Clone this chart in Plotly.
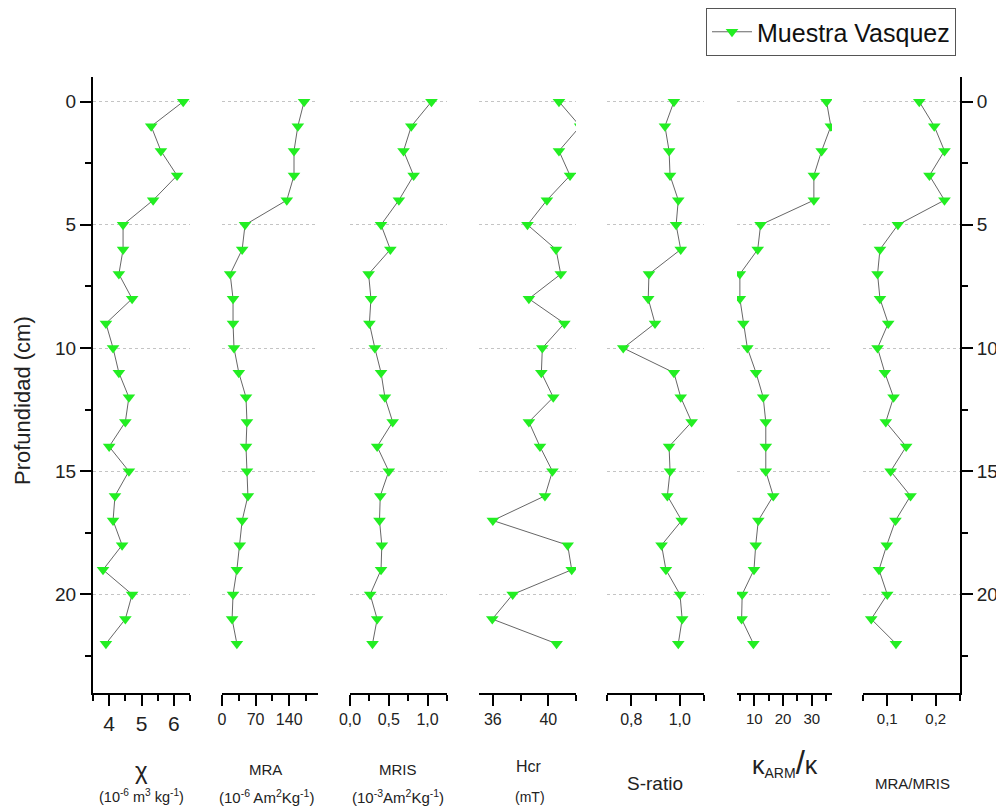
import plotly.graph_objects as go

# ---------------- data ----------------
depth = list(range(23))  # cm

chi = [6.29, 5.30, 5.60, 6.10, 5.36, 4.43, 4.43, 4.30, 4.71, 3.90, 4.12, 4.30,
       4.61, 4.50, 4.00, 4.61, 4.18, 4.12, 4.40, 3.81, 4.71, 4.50, 3.90]
mra = [171, 158, 150, 150, 135, 48, 42, 17, 23, 23, 25, 35,
       50, 52, 50, 52, 54, 42, 37, 31, 23, 21, 31]
mris = [1.05, 0.79, 0.69, 0.82, 0.63, 0.40, 0.52, 0.24, 0.27, 0.25, 0.32, 0.40,
        0.45, 0.55, 0.35, 0.50, 0.39, 0.38, 0.41, 0.40, 0.26, 0.35, 0.29]
hcr = [40.77, 42.3, 40.77, 41.57, 39.9, 38.5, 40.56, 40.9, 38.6, 41.16, 39.57, 39.5,
       40.36, 38.6, 39.4, 40.3, 39.76, 36.0, 41.4, 41.69, 37.43, 35.96, 40.6]
s_ratio = [0.976, 0.939, 0.956, 0.960, 0.994, 0.985, 1.004, 0.873, 0.870, 0.898, 0.767, 0.976,
           1.004, 1.049, 0.956, 0.960, 0.949, 1.008, 0.925, 0.943, 1.001, 1.010, 0.994]
karm_k = [35.1, 36.6, 33.4, 30.7, 30.7, 12.2, 11.2, 5.0, 5.0, 6.2, 7.6, 10.6,
          13.1, 14.0, 14.0, 14.0, 16.6, 11.4, 10.5, 9.9, 5.8, 5.6, 9.7]
mra_mris = [0.166, 0.197, 0.218, 0.187, 0.218, 0.122, 0.085, 0.080, 0.085, 0.102, 0.080, 0.095,
            0.113, 0.097, 0.139, 0.107, 0.148, 0.117, 0.099, 0.083, 0.100, 0.067, 0.118]

series = [chi, mra, mris, hcr, s_ratio, karm_k, mra_mris]
legend_name = "Muestra Vasquez"

# axis settings per panel
x_ranges = [[3.5, 6.5], [0, 200], [0, 1.25], [35, 42], [0.7, 1.1], [4, 37], [0.05, 0.25]]
x_dticks = [1, 70, 0.5, 4, 0.2, 10, 0.1]
x_tick0 = [0, 0, 0, 36, 0, 0, 0]
x_minor = [0.5, 35, 0.25, 2, 0.1, 5, 0.05]
x_formats = ["d", "d", ".1f", "d", ".1f", "d", ".1f"]
x_tickfont = [21, 16, 16, 16, 16, 15, 15]

y_range = [24, -1]

# ---------------- layout geometry (screen pixels, page has 8px body margin) ----------------
OFF = 8
W, H = 1004 - OFF, 809 - OFF
L, R, T, B = 93, 960, 77, 693          # plot area in screen pixels
pw, ph = R - L, B - T
panels_px = [(93, 190), (222, 318), (350, 447), (479, 576), (607, 704), (737, 832), (863, 960)]


def fx(px):
    return (px - L) / pw


def fy(py):
    return (B - py) / ph


font_family = "Liberation Sans, Arial, sans-serif"
marker_color = "#22EE22"

fig = go.Figure()
layout = dict(
    width=W, height=H,
    margin=dict(l=L - OFF, r=W - (R - OFF), t=T - OFF, b=H - (B - OFF), pad=0, autoexpand=False),
    plot_bgcolor="white", paper_bgcolor="white",
    separators=",.",
    font=dict(family=font_family, color="black"),
    showlegend=True,
    legend=dict(xref="container", yref="container",
                x=(956 - OFF) / W, y=1 - 0 / H, xanchor="right", yanchor="top",
                bordercolor="#555", borderwidth=1, bgcolor="white",
                font=dict(size=25, family=font_family, color="#111"),
                itemwidth=40, tracegroupgap=0),
)

for i, vals in enumerate(series):
    n = i + 1
    xa = "x" if n == 1 else f"x{n}"
    ya = "y" if n == 1 else f"y{n}"
    fig.add_trace(go.Scatter(
        x=vals, y=depth, xaxis=xa, yaxis=ya, mode="lines+markers",
        name=legend_name, showlegend=(i == 0),
        line=dict(color="#555555", width=0.9),
        marker=dict(symbol="triangle-down", size=11, color=marker_color,
                    line=dict(width=0)),
    ))
    x0, x1 = panels_px[i]
    xkey = "xaxis" if n == 1 else f"xaxis{n}"
    ykey = "yaxis" if n == 1 else f"yaxis{n}"
    layout[xkey] = dict(
        domain=[fx(x0), fx(x1)], anchor=ya, range=x_ranges[i],
        tick0=x_tick0[i], dtick=x_dticks[i], tickformat=x_formats[i],
        showline=True, linecolor="black", linewidth=2,
        ticks="outside", ticklen=11, tickwidth=2, tickcolor="black",
        tickfont=dict(size=x_tickfont[i], family=font_family, color="#222"),
        minor=dict(dtick=x_minor[i], tick0=0, ticks="outside", ticklen=6,
                   tickwidth=2, tickcolor="black", showgrid=False),
        showgrid=False, zeroline=False, fixedrange=True, automargin=False,
    )
    ydict = dict(
        domain=[0, 1], anchor=xa, range=y_range,
        dtick=5, tick0=0,
        showgrid=True, gridcolor="#C4C4C4", griddash="dot", gridwidth=1,
        zeroline=False, fixedrange=True, automargin=False,
    )
    if n in (1, 7):
        ydict.update(showline=True, linecolor="black", linewidth=2,
                     side="left" if n == 1 else "right",
                     ticks="outside", ticklen=11, tickwidth=2, tickcolor="black",
                     showticklabels=True, tickfont=dict(size=19, family=font_family, color="#222"),
                     minor=dict(dtick=2.5, tick0=0, ticks="outside", ticklen=6,
                                tickwidth=2, tickcolor="black", showgrid=False))
    else:
        ydict.update(showline=False, showticklabels=False, ticks="")
    layout[ykey] = ydict

fig.update_layout(**layout)

# ---------------- annotations (axis titles) ----------------
ann = []


def add(text, cx, cy, size, angle=0):
    ann.append(dict(text=text, x=fx(cx), y=fy(cy), xref="paper", yref="paper",
                    showarrow=False, xanchor="center", yanchor="middle",
                    textangle=angle, font=dict(size=size, family=font_family, color="#222")))


add("Profundidad (cm)", 22, 401, 22, -90)
add("χ", 141, 770, 24)
add("(10<sup>-6</sup> m<sup>3</sup> kg<sup>-1</sup>)", 141, 796, 14.5)
add("MRA", 265, 769, 15)
add("(10<sup>-6</sup> Am<sup>2</sup>Kg<sup>-1</sup>)", 266, 796, 15)
add("MRIS", 398, 769, 15)
add("(10<sup>-3</sup>Am<sup>2</sup>Kg<sup>-1</sup>)", 398, 796, 15)
add("Hcr", 529, 766, 16)
add("(mT)", 530, 797, 14)
add("S-ratio", 655, 783, 19)
add("<span style='font-size:25px'>κ</span><sub>ARM</sub><span style='font-size:33px'>/</span><span style='font-size:25px'>κ</span>",
    785, 763, 20)
add("MRA/MRIS", 912, 783, 15)

fig.update_layout(annotations=ann)

fig.write_html("out.html")
